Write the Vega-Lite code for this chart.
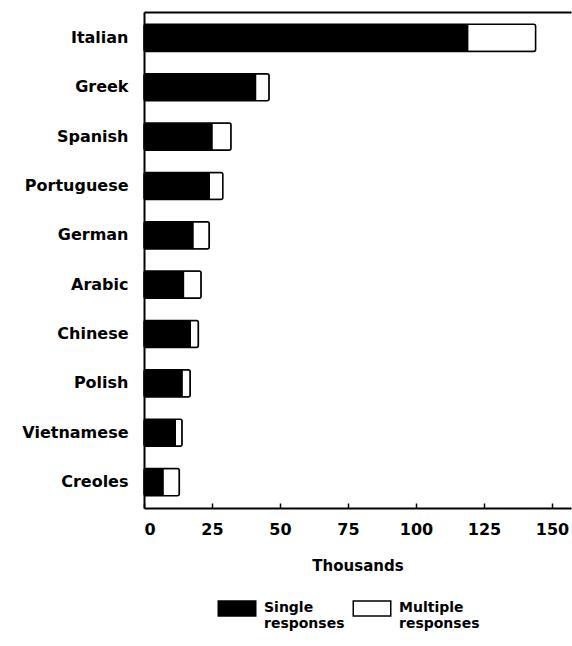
{
  "$schema": "https://vega.github.io/schema/vega-lite/v6.json",
  "width": 427,
  "height": 496,
  "autosize": {"type": "none"},
  "padding": {"left": 144, "top": 12, "right": 1, "bottom": 138},
  "background": "white",
  "config": {
    "font": "DejaVu Sans",
    "view": {"stroke": null}
  },
  "data": {
    "values": [
      {"language": "Italian", "type": "Single responses", "o": 1, "value": 119},
      {"language": "Italian", "type": "Multiple responses", "o": 2, "value": 25},
      {"language": "Greek", "type": "Single responses", "o": 1, "value": 41},
      {"language": "Greek", "type": "Multiple responses", "o": 2, "value": 5},
      {"language": "Spanish", "type": "Single responses", "o": 1, "value": 25},
      {"language": "Spanish", "type": "Multiple responses", "o": 2, "value": 7},
      {"language": "Portuguese", "type": "Single responses", "o": 1, "value": 24},
      {"language": "Portuguese", "type": "Multiple responses", "o": 2, "value": 5},
      {"language": "German", "type": "Single responses", "o": 1, "value": 18},
      {"language": "German", "type": "Multiple responses", "o": 2, "value": 6},
      {"language": "Arabic", "type": "Single responses", "o": 1, "value": 14.5},
      {"language": "Arabic", "type": "Multiple responses", "o": 2, "value": 6.5},
      {"language": "Chinese", "type": "Single responses", "o": 1, "value": 17},
      {"language": "Chinese", "type": "Multiple responses", "o": 2, "value": 3},
      {"language": "Polish", "type": "Single responses", "o": 1, "value": 14},
      {"language": "Polish", "type": "Multiple responses", "o": 2, "value": 3},
      {"language": "Vietnamese", "type": "Single responses", "o": 1, "value": 11.5},
      {"language": "Vietnamese", "type": "Multiple responses", "o": 2, "value": 2.5},
      {"language": "Creoles", "type": "Single responses", "o": 1, "value": 7},
      {"language": "Creoles", "type": "Multiple responses", "o": 2, "value": 6}
    ]
  },
  "encoding": {
    "y": {
      "field": "language",
      "type": "nominal",
      "sort": ["Italian", "Greek", "Spanish", "Portuguese", "German", "Arabic", "Chinese", "Polish", "Vietnamese", "Creoles"],
      "scale": {"paddingInner": 0.45, "paddingOuter": 0.25},
      "axis": {
        "title": null,
        "ticks": false,
        "domain": true,
        "domainColor": "black",
        "domainWidth": 2,
        "labelFont": "DejaVu Sans",
        "labelFontWeight": "bold",
        "labelFontSize": 16,
        "labelColor": "black",
        "labelPadding": 16
      }
    },
    "x": {
      "field": "value",
      "type": "quantitative",
      "stack": "zero",
      "scale": {"domain": [0, 157], "nice": false}
    }
  },
  "layer": [
    {
      "mark": {"type": "bar", "stroke": "black", "strokeWidth": 1.5, "cornerRadius": 2},
      "encoding": {
        "x": {
          "field": "value",
          "type": "quantitative",
          "stack": "zero",
          "scale": {"domain": [0, 157], "nice": false},
          "axis": {
            "title": "Thousands",
            "values": [0, 25, 50, 75, 100, 125, 150],
            "grid": false,
            "domain": true,
            "domainColor": "black",
            "domainWidth": 2,
            "tickSize": -5,
            "tickColor": "black",
            "tickWidth": 1.5,
            "labelFont": "DejaVu Sans",
            "labelFontWeight": "bold",
            "labelFontSize": 16,
            "labelColor": "black",
            "labelPadding": 18,
            "titleFont": "DejaVu Sans",
            "titleFontWeight": "bold",
            "titleFontSize": 15,
            "titleColor": "black",
            "titlePadding": 21
          }
        },
        "order": {"field": "o", "type": "quantitative"},
        "color": {
          "field": "type",
          "type": "nominal",
          "scale": {"domain": ["Single responses", "Multiple responses"], "range": ["black", "white"]},
          "legend": {
            "title": null,
            "orient": "none",
            "legendX": 77,
            "legendY": 573,
            "direction": "horizontal",
            "symbolType": "M-1.25,0H1.25V1H-1.25Z",
            "symbolSize": 900,
            "symbolStrokeColor": "black",
            "symbolStrokeWidth": 1.5,
            "labelExpr": "split(datum.label, ' ')",
            "labelFont": "DejaVu Sans",
            "labelFontWeight": "bold",
            "labelFontSize": 14,
            "labelColor": "black",
            "labelBaseline": "top",
            "labelOffset": 11,
            "columnPadding": 5,
            "labelLimit": 200
          }
        }
      }
    },
    {
      "mark": {"type": "bar", "opacity": 0},
      "encoding": {
        "x": {
          "field": "value",
          "type": "quantitative",
          "stack": "zero",
          "scale": {"domain": [0, 157], "nice": false},
          "axis": {
            "orient": "top",
            "title": null,
            "labels": false,
            "ticks": false,
            "grid": false,
            "domain": true,
            "domainColor": "black",
            "domainWidth": 2
          }
        }
      }
    }
  ],
  "resolve": {"axis": {"x": "independent"}}
}
